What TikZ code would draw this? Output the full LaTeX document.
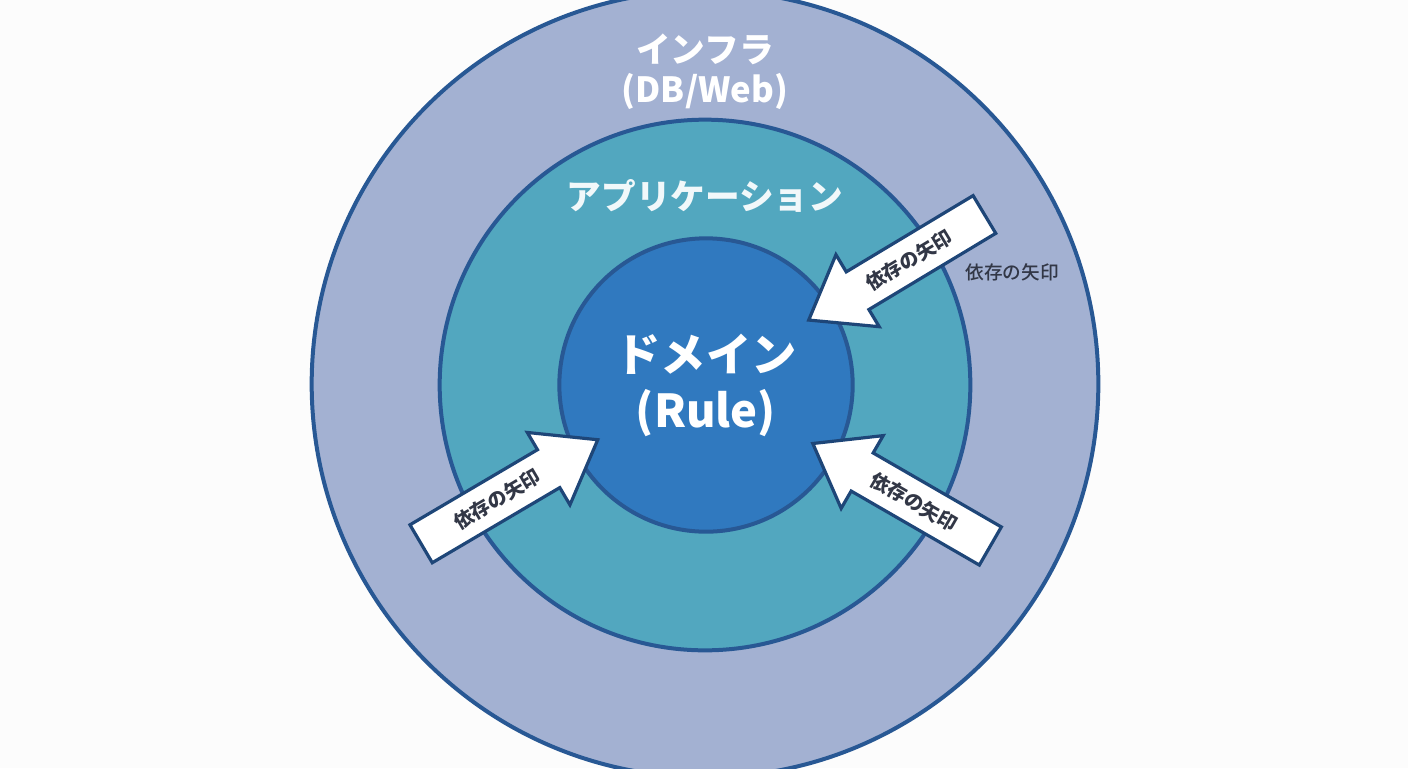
\documentclass[tikz,border=0pt]{standalone}
\usepackage{fontspec}
\newfontfamily\jpfont{Noto Sans CJK JP}
\newfontfamily\jpmedium{Noto Sans CJK JP Medium}
\definecolor{ringline}{RGB}{40,88,148}
\definecolor{arrline}{RGB}{30,70,120}
\definecolor{infrafill}{RGB}{163,177,210}
\definecolor{appfill}{RGB}{82,167,191}
\definecolor{domfill}{RGB}{48,121,191}
\definecolor{labelgray}{RGB}{50,55,70}
\tikzset{every picture/.style={line width=0.75pt}}
\tikzset{
  ring/.style={circle,draw=ringline,line width=3pt,inner sep=0pt},
  pics/deparrow/.style args={#1/#2}{code={
    \draw [xscale=#1,draw=arrline,fill=white,line width=2.4pt,line join=miter]
      (-102,-22) -- (46,-22) -- (46,-42) -- (103,0) -- (46,42) -- (46,22) -- (-102,22) -- cycle;
    \node [transform shape,font=\jpfont\bfseries\fontsize{14.5}{14.5}\selectfont,text=labelgray] (-txt) at (-14*#1,0) {#2};
  }}
}
\begin{document}
\begin{tikzpicture}[x=0.75pt,y=0.75pt,yscale=-1,xscale=1]
	\useasboundingbox[fill=white!98!gray] (0,0) rectangle (1408,768);
	
	%Rings
	\node [ring,fill=infrafill,minimum size=590pt] (infra) at (705,384) {};
	\node [ring,fill=appfill,minimum size=398pt] (app) at (705,385) {};
	\node [ring,fill=domfill,minimum size=220pt] (domain) at (706,385) {};
	
	%Dependency arrows
	\pic [rotate=31] (arrTR) at (897,267) {deparrow={-1/依存の矢印}};
	\pic [rotate=30.5] (arrBL) at (509,492) {deparrow={1/依存の矢印}};
	\pic [rotate=-30] (arrBR) at (902,495) {deparrow={-1/依存の矢印}};
	
	% Text Node
	\node [font=\jpfont\bfseries\fontsize{26}{30}\selectfont,text=white,align=center] (infraLbl) at (705,72) {インフラ\\(DB/Web)};
	% Text Node
	\node [font=\jpfont\bfseries\fontsize{26}{30}\selectfont,text=white!92!appfill] (appLbl) at (705,196) {アプリケーション};
	% Text Node
	\node [font=\jpfont\bfseries\fontsize{34}{42}\selectfont,text=white,align=center] (domLbl) at (706,385) {ドメイン\\(Rule)};
	% Text Node
	\node [font=\jpmedium\fontsize{14}{14}\selectfont,text=labelgray] (depLbl) at (1012,272) {依存の矢印};
	
\end{tikzpicture}
\end{document}
